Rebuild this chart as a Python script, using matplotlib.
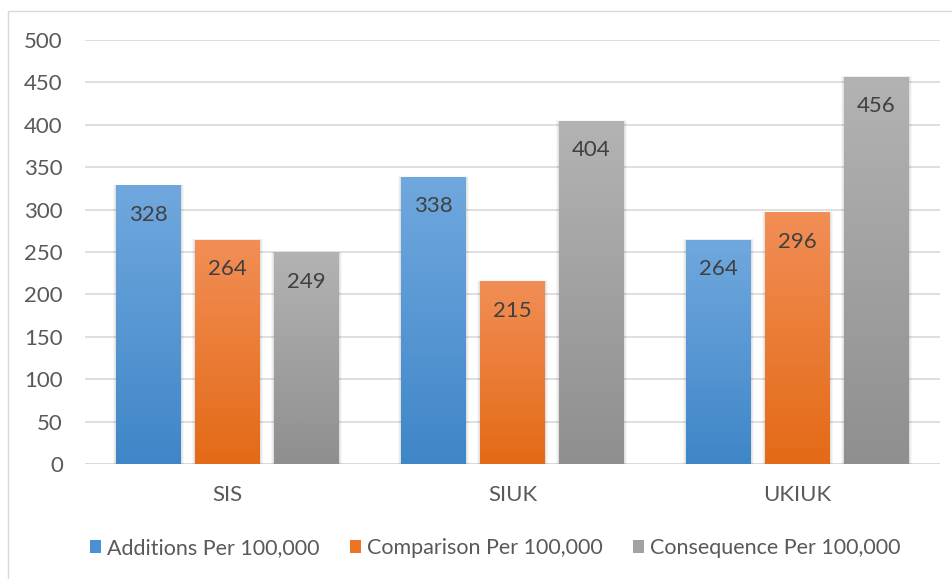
import numpy as np
import matplotlib
matplotlib.use("Agg")
import matplotlib.pyplot as plt
from matplotlib.colors import LinearSegmentedColormap
from matplotlib.patches import Rectangle

plt.rcParams['font.family'] = ['Lato', 'DejaVu Sans']

categories = ["SIS", "SIUK", "UKIUK"]
series_names = ["Additions Per 100,000", "Comparison Per 100,000", "Consequence Per 100,000"]
additions = [328, 338, 264]
comparison = [264, 215, 296]
consequence = [249, 404, 456]
y_ticks = [0, 50, 100, 150, 200, 250, 300, 350, 400, 450, 500]

series_values = [additions, comparison, consequence]
# (top colour, bottom colour) for each series' vertical gradient
gradients = [("#70a8de", "#3f86c8"), ("#f28e56", "#e36a16"), ("#b3b3b3", "#8f8f8f")]
legend_colors = ["#4a90d4", "#ed7424", "#a2a2a2"]

W, H = 953, 579
fig = plt.figure(figsize=(W / 100, H / 100), dpi=100)
fig.patch.set_facecolor("white")

# chart frame
fig.patches.append(Rectangle((8 / W, 1 - 11 / H), 2, -2, transform=fig.transFigure,
                             fill=False, edgecolor="#d9d9d9", linewidth=1.0))

ax = fig.add_axes([85 / W, 1 - 464 / H, (940 - 85) / W, (464 - 40) / H])
ax.set_xlim(-0.5, len(categories) - 0.5)
ax.set_ylim(0, 500)

for s in ax.spines.values():
    s.set_visible(False)
ax.set_yticks(y_ticks)
ax.yaxis.grid(True, color="#d9d9d9", linewidth=1.2)
ax.set_axisbelow(True)
ax.axhline(0, color="#d9d9d9", linewidth=1.2, zorder=1)
ax.tick_params(axis="y", length=0, pad=16, labelsize=16, labelcolor="#595959")
ax.tick_params(axis="x", length=0, pad=15, labelsize=16, labelcolor="#595959")
ax.set_xticks(range(len(categories)))
ax.set_xticklabels(categories)

bar_w = 0.228
step = 0.277
for i, (vals, (ctop, cbot)) in enumerate(zip(series_values, gradients)):
    cmap = LinearSegmentedColormap.from_list(f"g{i}", [cbot, ctop])
    offs = (i - 1) * step
    bars = ax.bar(np.arange(len(categories)) + offs, vals, width=bar_w,
                  color="none", edgecolor="none", zorder=3, label=series_names[i])
    for b, v in zip(bars, vals):
        x0 = b.get_x()
        # soft shadow
        for k, a in enumerate([0.05, 0.04, 0.03]):
            d = (k + 1) * 0.004
            ax.add_patch(Rectangle((x0 - d, 0), bar_w + 2 * d, v + d * 120,
                                   facecolor="black", alpha=a, edgecolor="none", zorder=2))
        grad = np.linspace(0, 1, 256).reshape(-1, 1)
        ax.imshow(grad, cmap=cmap, origin="lower", aspect="auto",
                  extent=(x0, x0 + bar_w, 0, v), zorder=3, interpolation="bilinear")
        ax.text(x0 + bar_w / 2, v - 34, f"{v}", ha="center", va="center",
                fontsize=16, color="#404040", zorder=4)

ax.set_xlim(-0.5, len(categories) - 0.5)
ax.set_ylim(0, 500)

handles = [Rectangle((0, 0), 1, 1, facecolor=c, edgecolor="none") for c in legend_colors]
fig.legend(handles, series_names, loc="center", bbox_to_anchor=(495 / W, 1 - 548 / H),
           ncol=3, frameon=False, fontsize=15.5, labelcolor="#595959",
           handlelength=0.55, handleheight=0.55, handletextpad=0.25, columnspacing=1.4)

fig.savefig("out.png", dpi=100, facecolor="white")
